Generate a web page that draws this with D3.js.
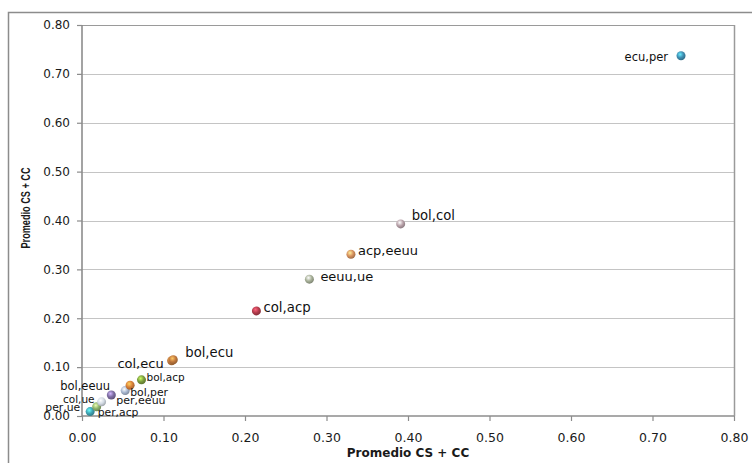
<!DOCTYPE html>
<html><head><meta charset="utf-8">
<script src="https://cdn.jsdelivr.net/npm/d3@7"></script>
<style>
html,body{margin:0;padding:0;background:#fff;}
svg{display:block;}
</style></head>
<body>
<svg id="chart" width="752" height="463"></svg>
<script>
// ---- data ----
const pairs   = ["ecu,per","bol,col","acp,eeuu","eeuu,ue","col,acp","bol,ecu","col,ecu","bol,acp","bol,eeuu","bol,per","per,eeuu","col,ue","per,acp","per,ue"];
const xValues = [0.735, 0.391, 0.330, 0.279, 0.214, 0.112, 0.110, 0.073, 0.059, 0.053, 0.036, 0.024, 0.018, 0.010];
const yValues = [0.737, 0.393, 0.331, 0.280, 0.215, 0.115, 0.113, 0.074, 0.063, 0.052, 0.043, 0.029, 0.019, 0.009];
const tickValues = [0, 0.1, 0.2, 0.3, 0.4, 0.5, 0.6, 0.7, 0.8];
const axisTitleX = "Promedio CS + CC";
const axisTitleY = "Promedio CS + CC";

// ---- styling / layout (not data) ----
const pointColors = ["#3f8fb3","#b9a2aa","#d8925f","#a9b29a","#b23c4c","#c27a3e","#c27a3e","#7c9c3e","#d8803a","#a9b9d2","#7f6fa3","#d3dbe4","#8fb46c","#3fa3b3"];
const labelLayout = [
  {a:"end",dx:-13,dy:1,fs:11.5},{a:"start",dx:11,dy:-9,fs:13.2},{a:"start",dx:7,dy:-4,fs:13},{a:"start",dx:11,dy:-3,fs:13},
  {a:"start",dx:7,dy:-4,fs:13.3},{a:"start",dx:12,dy:-7,fs:13.2},{a:"end",dx:-8,dy:3,fs:13},{a:"start",dx:5,dy:-3,fs:10.5},
  {a:"end",dx:-20,dy:1,fs:11.5},{a:"start",dx:5,dy:2,fs:10.8},{a:"start",dx:5,dy:5,fs:11},{a:"end",dx:-7,dy:-3,fs:10.5},
  {a:"start",dx:1,dy:6,fs:10.8},{a:"end",dx:-10,dy:-4,fs:10.8}
];

const svg = d3.select("#chart");
const pLeft = 82, pRight = 734, pTop = 25, pBottom = 416;
const x = d3.scaleLinear().domain([0, 0.8]).range([pLeft, pRight]);
const y = d3.scaleLinear().domain([0, 0.8]).range([pBottom, pTop]);
const fmt = d3.format(".2f");

// outer chart frame
svg.append("rect").attr("x", 8.5).attr("y", 12.5).attr("width", 800).attr("height", 500)
  .attr("fill", "none").attr("stroke", "#8c8c8c").attr("stroke-width", 1.5);

// gridlines
svg.append("g").selectAll("line").data(tickValues.filter(d => d > 0)).join("line")
  .attr("x1", pLeft).attr("x2", pRight)
  .attr("y1", d => Math.round(y(d)) + 0.5).attr("y2", d => Math.round(y(d)) + 0.5)
  .attr("stroke", d => d === 0.8 ? "#9a9a9a" : "#c4c4c4").attr("stroke-width", 1.2);

// plot right border
svg.append("line").attr("x1", pRight + 0.5).attr("x2", pRight + 0.5).attr("y1", pTop).attr("y2", pBottom)
  .attr("stroke", "#9a9a9a").attr("stroke-width", 1.5);

// y axis
const yAxis = d3.axisLeft(y).tickValues(tickValues).tickFormat(fmt).tickSize(5).tickPadding(7);
const gy = svg.append("g").attr("transform", `translate(${pLeft},0)`).call(yAxis);
// x axis
const xAxis = d3.axisBottom(x).tickValues(tickValues).tickFormat(fmt).tickSize(5).tickPadding(12);
const gx = svg.append("g").attr("transform", `translate(0,${pBottom})`).call(xAxis);

[gx, gy].forEach(g => {
  g.select(".domain").attr("stroke", "#8c8c8c").attr("stroke-width", 1.6);
  g.selectAll(".tick line").attr("stroke", "#8c8c8c").attr("stroke-width", 1.2);
  g.selectAll(".tick text").attr("fill", "#1a1a1a")
    .style("font-family", "DejaVu Sans").style("font-size", "12px");
});
gx.selectAll(".tick text").style("font-size", "12.5px");
gy.select(".domain").attr("d", `M0,${pTop}V${pBottom}`);
gx.select(".domain").attr("d", `M${pLeft},0H${pRight}`);

// axis titles
svg.append("text").attr("x", (pLeft + pRight) / 2).attr("y", 457)
  .attr("text-anchor", "middle").style("font-family", "DejaVu Sans").style("font-weight", "bold")
  .style("font-size", "12px").attr("fill", "#1a1a1a").text(axisTitleX);
svg.append("text").attr("transform", `translate(30,208) rotate(-90)`)
  .attr("text-anchor", "middle").style("font-family", "Liberation Sans").style("font-weight", "bold")
  .style("font-size", "12px").attr("textLength", 81).attr("lengthAdjust", "spacingAndGlyphs")
  .attr("fill", "#1a1a1a").text(axisTitleY);

// gradients for sphere-like markers
const defs = svg.append("defs");
pointColors.forEach((c, i) => {
  const g = defs.append("radialGradient").attr("id", "g" + i)
    .attr("cx", "40%").attr("cy", "35%").attr("r", "65%");
  g.append("stop").attr("offset", "0%").attr("stop-color", d3.color(c).brighter(1.4));
  g.append("stop").attr("offset", "55%").attr("stop-color", c);
  g.append("stop").attr("offset", "100%").attr("stop-color", d3.color(c).darker(0.8));
});

const pts = pairs.map((p, i) => ({name: p, x: xValues[i], y: yValues[i], i}));

svg.append("g").selectAll("circle").data(pts.slice().reverse()).join("circle")
  .attr("cx", d => x(d.x)).attr("cy", d => y(d.y)).attr("r", 4.5)
  .attr("fill", d => `url(#g${d.i})`);

svg.append("g").selectAll("text").data(pts).join("text")
  .attr("x", d => x(d.x) + labelLayout[d.i].dx)
  .attr("y", d => y(d.y) + labelLayout[d.i].dy)
  .attr("dy", "0.35em")
  .attr("text-anchor", d => labelLayout[d.i].a)
  .style("font-family", "DejaVu Sans").style("font-size", d => labelLayout[d.i].fs + "px").attr("fill", "#111")
  .text(d => d.name);
</script>
</body></html>
